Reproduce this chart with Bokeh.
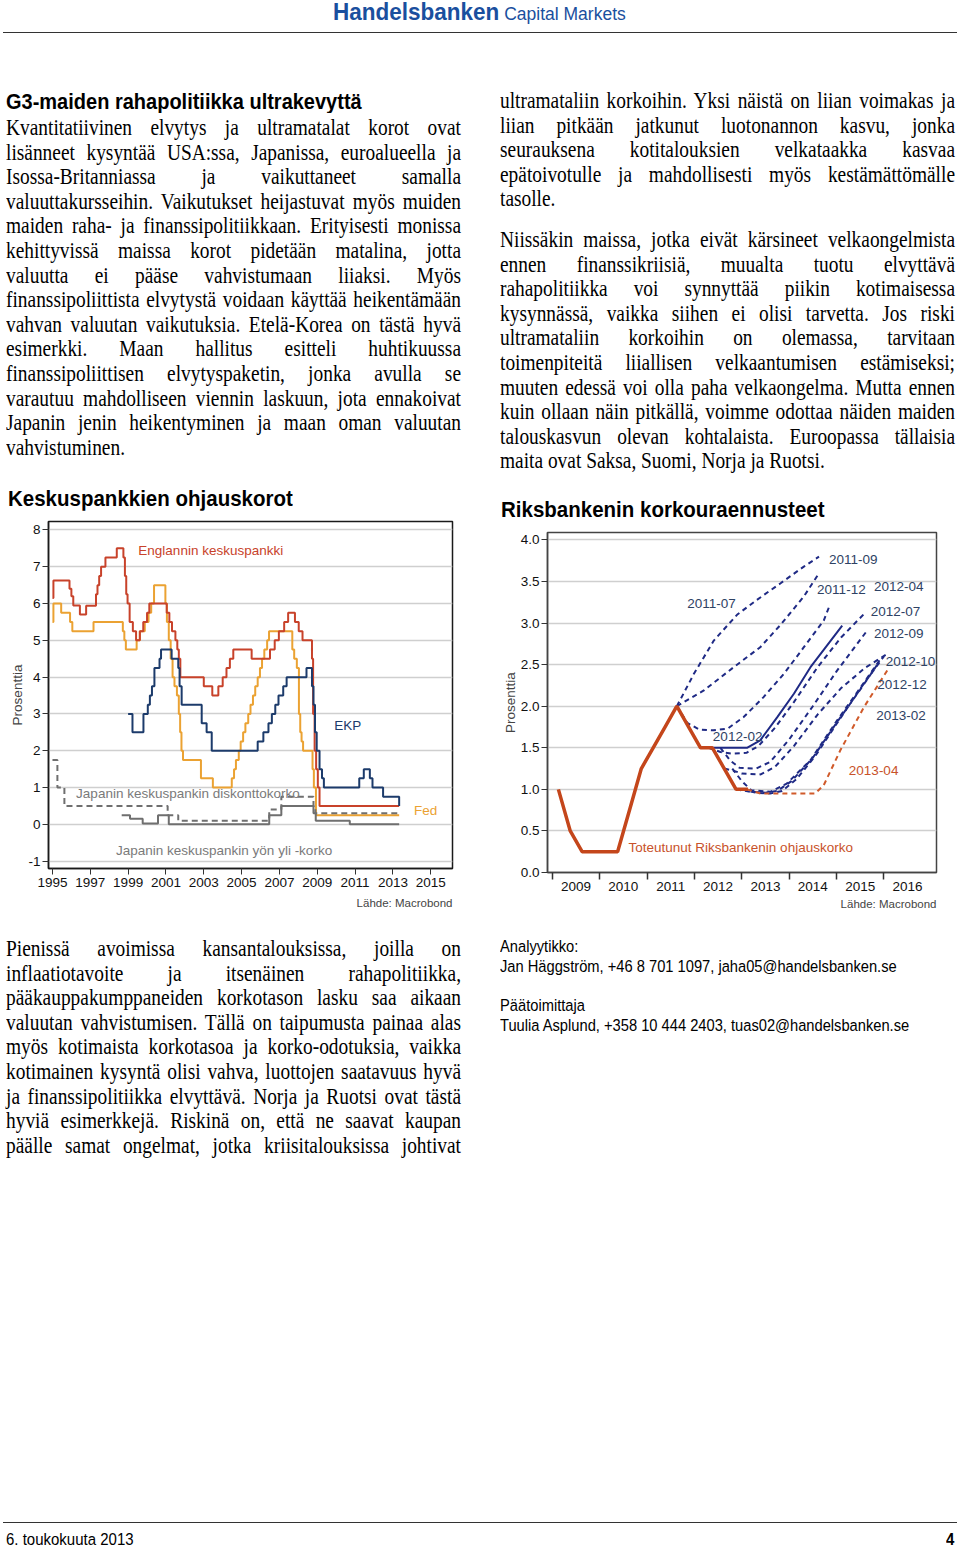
from bokeh.plotting import figure
from bokeh.models import Div, Title, Label, FixedTicker, NumeralTickFormatter, Range1d, CustomJSTickFormatter
from bokeh.layouts import column, row
from bokeh.embed import file_html
from bokeh.resources import INLINE

FONT = "Liberation Sans"

# ---------------- Chart 1 data: central bank policy rates (step series) ----------------
fed_x = [1995.0, 1995.05, 1995.46, 1995.93, 1996.05, 1997.17, 1998.72, 1998.8, 1998.88, 1999.45,
         1999.62, 1999.88, 2000.08, 2000.22, 2000.37, 2000.97, 2001.05, 2001.15, 2001.25, 2001.35,
         2001.45, 2001.58, 2001.68, 2001.75, 2001.82, 2001.9, 2002.85, 2003.48, 2004.48, 2004.6,
         2004.7, 2004.85, 2004.95, 2005.08, 2005.2, 2005.35, 2005.47, 2005.6, 2005.72, 2005.85,
         2005.97, 2006.08, 2006.2, 2006.35, 2006.45, 2007.68, 2007.78, 2007.92, 2008.03, 2008.1,
         2008.17, 2008.25, 2008.75, 2008.82, 2008.93, 2013.33]
fed_y = [5.5, 6.0, 5.75, 5.5, 5.25, 5.5, 5.25, 5.0, 4.75, 5.0,
         5.25, 5.5, 5.75, 6.0, 6.5, 6.0, 5.5, 5.0, 4.5, 4.0,
         3.75, 3.5, 3.0, 2.5, 2.0, 1.75, 1.25, 1.0, 1.25, 1.5,
         1.75, 2.0, 2.25, 2.5, 2.75, 3.0, 3.25, 3.5, 3.75, 4.0,
         4.25, 4.5, 4.75, 5.0, 5.25, 4.75, 4.5, 4.25, 3.0, 2.5,
         2.25, 2.0, 1.5, 1.0, 0.25, 0.25]

boe_x = [1995.0, 1995.05, 1995.9, 1996.0, 1996.1, 1996.45, 1996.78, 1997.3, 1997.38, 1997.47,
         1997.57, 1997.8, 1998.4, 1998.75, 1998.83, 1998.9, 1998.97, 1999.08, 1999.25, 1999.42,
         1999.62, 1999.8, 2000.0, 2000.12, 2001.04, 2001.18, 2001.32, 2001.5, 2001.6, 2001.68,
         2001.76, 2003.0, 2003.45, 2003.77, 2004.0, 2004.2, 2004.38, 2004.56, 2005.53, 2006.5,
         2006.75, 2006.97, 2007.25, 2007.46, 2007.82, 2008.02, 2008.22, 2008.72, 2008.78, 2008.86,
         2008.94, 2009.03, 2009.12, 2013.33]
boe_y = [6.15, 6.63, 6.4, 6.2, 5.95, 5.7, 5.94, 6.25, 6.5, 6.75,
         7.0, 7.25, 7.5, 7.25, 6.75, 6.25, 6.0, 5.5, 5.25, 5.0,
         5.25, 5.5, 5.75, 6.0, 5.75, 5.5, 5.25, 5.0, 4.75, 4.5,
         4.0, 3.75, 3.5, 3.75, 4.0, 4.25, 4.5, 4.75, 4.5, 4.75,
         5.0, 5.25, 5.5, 5.75, 5.5, 5.25, 5.0, 4.5, 3.0, 2.0,
         1.5, 1.0, 0.5, 0.5]

ecb_x = [1999.0, 1999.23, 1999.81, 2000.04, 2000.15, 2000.26, 2000.39, 2000.66, 2000.74, 2001.3,
         2001.65, 2001.72, 2001.83, 2002.89, 2003.15, 2003.42, 2005.85, 2006.15, 2006.42, 2006.6,
         2006.78, 2006.95, 2007.2, 2007.38, 2008.43, 2008.72, 2008.8, 2008.88, 2008.97, 2009.12,
         2009.25, 2009.35, 2011.22, 2011.46, 2011.78, 2011.92, 2012.48, 2013.33]
ecb_y = [3.0, 2.5, 3.0, 3.25, 3.5, 3.75, 4.25, 4.5, 4.75, 4.5,
         4.25, 3.75, 3.25, 2.75, 2.5, 2.0, 2.25, 2.5, 2.75, 3.0,
         3.25, 3.5, 3.75, 4.0, 4.25, 3.75, 3.25, 2.5, 2.0, 1.5,
         1.25, 1.0, 1.25, 1.5, 1.25, 1.0, 0.75, 0.5]

jp_call_x = [1998.66, 1999.1, 1999.77, 2000.58, 2001.15, 2006.46, 2007.1, 2008.8, 2008.92, 2010.72, 2013.33]
jp_call_y = [0.25, 0.15, 0.02, 0.25, 0.0, 0.25, 0.5, 0.3, 0.1, 0.0, 0.0]

jp_disc_x = [1995.0, 1995.26, 1995.63, 2001.09, 2001.65, 2006.46, 2007.1, 2008.8, 2008.9, 2013.33]
jp_disc_y = [1.75, 1.0, 0.5, 0.25, 0.1, 0.4, 0.75, 0.5, 0.3, 0.3]

years_c1 = [1995, 1997, 1999, 2001, 2003, 2005, 2007, 2009, 2011, 2013, 2015]
levels_c1 = [-1, 0, 1, 2, 3, 4, 5, 6, 7, 8]

c1_title = "Keskuspankkien ohjauskorot"
c1_labels = ["Englannin keskuspankki", "EKP", "Fed",
             "Japanin keskuspankin diskonttokorko", "Japanin keskuspankin yön yli -korko"]
c1_label_x = [1999.54, 2009.9, 2014.12, 1996.25, 1998.36]
c1_label_y = [7.45, 2.68, 0.38, 0.83, -0.7]
c1_label_col = ["#C8422A", "#1C3B6B", "#EBA232", "#7a7a7a", "#7a7a7a"]

# ---------------- Chart 2 data: Riksbank repo rate and forecast paths ----------------
repo_x = [2009.13, 2009.38, 2009.63, 2009.88, 2010.13, 2010.38, 2010.63, 2010.88, 2011.13,
          2011.38, 2011.63, 2011.88, 2012.13, 2012.38, 2012.63, 2012.88, 2013.13]
repo_y = [1.0, 0.5, 0.25, 0.25, 0.25, 0.25, 0.75, 1.25, 1.5,
          1.75, 2.0, 1.75, 1.5, 1.5, 1.25, 1.0, 1.0]

f_2011_07_x = [2011.63, 2011.99, 2012.41, 2012.9, 2013.32, 2013.82, 2014.31, 2014.63]
f_2011_07_y = [2.0, 2.39, 2.79, 3.10, 3.28, 3.48, 3.68, 3.80]
f_2011_09_x = [2011.63, 2012.2, 2012.83, 2013.39, 2013.82, 2014.31, 2014.63]
f_2011_09_y = [2.0, 2.19, 2.47, 2.71, 2.98, 3.32, 3.60]
f_2011_12_x = [2011.63, 2011.85, 2012.1, 2012.4, 2012.7, 2013.04, 2013.46, 2013.89, 2014.31, 2014.73, 2014.86]
f_2011_12_y = [2.0, 1.8, 1.72, 1.71, 1.73, 1.87, 2.11, 2.39, 2.71, 3.03, 3.22]
f_2012_02_x = [2012.13, 2013.11, 2013.39, 2013.75, 2014.1, 2014.45, 2015.12]
f_2012_02_y = [1.5, 1.5, 1.59, 1.87, 2.15, 2.47, 2.97]
f_2012_04_x = [2012.3, 2012.55, 2012.8, 2013.1, 2013.35, 2013.7, 2014.1, 2014.6, 2015.1, 2015.58]
f_2012_04_y = [1.5, 1.45, 1.43, 1.44, 1.52, 1.74, 2.05, 2.47, 2.83, 3.11]
f_2012_07_x = [2012.55, 2012.75, 2012.95, 2013.3, 2013.6, 2014.0, 2014.5, 2015.0, 2015.62]
f_2012_07_y = [1.5, 1.35, 1.26, 1.25, 1.33, 1.6, 2.0, 2.42, 2.89]
f_2012_09_x = [2012.63, 2012.85, 2013.0, 2013.4, 2013.7, 2014.1, 2014.6, 2015.1, 2015.6, 2016.07]
f_2012_09_y = [1.25, 1.22, 1.19, 1.18, 1.27, 1.52, 1.9, 2.22, 2.46, 2.63]
f_2012_10_x = [2012.8, 2013.0, 2013.2, 2013.6, 2013.95, 2014.45, 2015.0, 2015.5, 2015.93]
f_2012_10_y = [1.25, 1.1, 0.99, 0.97, 1.07, 1.35, 1.82, 2.22, 2.57]
f_2012_12_x = [2012.88, 2013.2, 2013.5, 2013.75, 2014.05, 2014.5, 2015.0, 2015.5, 2015.86]
f_2012_12_y = [1.0, 0.97, 0.96, 0.98, 1.1, 1.38, 1.8, 2.2, 2.5]
f_2013_02_x = [2013.0, 2013.3, 2013.6, 2013.85, 2014.15, 2014.55, 2015.05, 2015.55, 2016.0]
f_2013_02_y = [1.0, 0.96, 0.95, 0.98, 1.12, 1.4, 1.83, 2.25, 2.6]
f_2013_04_x = [2013.11, 2013.4, 2014.55, 2014.73, 2015.08, 2015.58, 2016.07]
f_2013_04_y = [1.0, 0.95, 0.95, 1.05, 1.47, 1.99, 2.43]

years_c2 = [2009, 2010, 2011, 2012, 2013, 2014, 2015, 2016]
levels_c2 = [0.0, 0.5, 1.0, 1.5, 2.0, 2.5, 3.0, 3.5, 4.0]

c2_title = "Riksbankenin korkouraennusteet"
c2_labels = ["2011-07", "2011-09", "2011-12", "2012-04", "2012-07", "2012-09", "2012-10",
             "2012-12", "2013-02", "2012-02", "2013-04", "Toteutunut Riksbankenin ohjauskorko"]
c2_label_x = [2011.85, 2014.84, 2014.59, 2015.79, 2015.72, 2015.79, 2016.04,
              2015.86, 2015.84, 2012.39, 2015.26, 2010.61]
c2_label_y = [3.24, 3.77, 3.41, 3.44, 3.14, 2.87, 2.54, 2.26, 1.89, 1.63, 1.23, 0.30]
c2_label_col = ["#2E4264"] * 10 + ["#C8522A", "#C8522A"]

source_text = "Lähde: Macrobond"

# ---------------- Text content ----------------
header_bold = "Handelsbanken"
header_light = "Capital Markets"
heading = "G3-maiden rahapolitiikka ultrakevyttä"
left_top_lines = [
    "Kvantitatiivinen elvytys ja ultramatalat korot ovat",
    "lisänneet kysyntää USA:ssa, Japanissa, euroalueella ja",
    "Isossa-Britanniassa ja vaikuttaneet samalla",
    "valuuttakursseihin. Vaikutukset heijastuvat myös muiden",
    "maiden raha- ja finanssipolitiikkaan. Erityisesti monissa",
    "kehittyvissä maissa korot pidetään matalina, jotta",
    "valuutta ei pääse vahvistumaan liiaksi. Myös",
    "finanssipoliittista elvytystä voidaan käyttää heikentämään",
    "vahvan valuutan vaikutuksia. Etelä-Korea on tästä hyvä",
    "esimerkki. Maan hallitus esitteli huhtikuussa",
    "finanssipoliittisen elvytyspaketin, jonka avulla se",
    "varautuu mahdolliseen viennin laskuun, jota ennakoivat",
    "Japanin jenin heikentyminen ja maan oman valuutan",
    "vahvistuminen.",
]
right_top_par1 = [
    "ultramataliin korkoihin. Yksi näistä on liian voimakas ja",
    "liian pitkään jatkunut luotonannon kasvu, jonka",
    "seurauksena kotitalouksien velkataakka kasvaa",
    "epätoivotulle ja mahdollisesti myös kestämättömälle",
    "tasolle.",
]
right_top_par2 = [
    "Niissäkin maissa, jotka eivät kärsineet velkaongelmista",
    "ennen finanssikriisiä, muualta tuotu elvyttävä",
    "rahapolitiikka voi synnyttää piikin kotimaisessa",
    "kysynnässä, vaikka siihen ei olisi tarvetta. Jos riski",
    "ultramataliin korkoihin on olemassa, tarvitaan",
    "toimenpiteitä liiallisen velkaantumisen estämiseksi;",
    "muuten edessä voi olla paha velkaongelma. Mutta ennen",
    "kuin ollaan näin pitkällä, voimme odottaa näiden maiden",
    "talouskasvun olevan kohtalaista. Euroopassa tällaisia",
    "maita ovat Saksa, Suomi, Norja ja Ruotsi.",
]
left_bottom_lines = [
    "Pienissä avoimissa kansantalouksissa, joilla on",
    "inflaatiotavoite ja itsenäinen rahapolitiikka,",
    "pääkauppakumppaneiden korkotason lasku saa aikaan",
    "valuutan vahvistumisen. Tällä on taipumusta painaa alas",
    "myös kotimaista korkotasoa ja korko-odotuksia, vaikka",
    "kotimainen kysyntä olisi vahva, luottojen saatavuus hyvä",
    "ja finanssipolitiikka elvyttävä. Norja ja Ruotsi ovat tästä",
    "hyviä esimerkkejä. Riskinä on, että ne saavat kaupan",
    "päälle samat ongelmat, jotka kriisitalouksissa johtivat",
]
analyst_lines = [
    "Analyytikko:",
    "Jan Häggström, +46 8 701 1097, jaha05@handelsbanken.se",
    "Päätoimittaja",
    "Tuulia Asplund, +358 10 444 2403, tuas02@handelsbanken.se",
]
footer_left = "6. toukokuuta 2013"
footer_right = "4"

# ---------------- HTML helpers ----------------
LINE_H = 24.6
BODY_FS = 19.4
TOP_H = 480
T1_H = 30     # chart-1 title strip
T2_H = 41     # chart-2 title strip
ROW_END = 920


def body_line(text, left, cy, justify):
    return (f'<div style="position:absolute;left:{left}px;top:{cy - 12:.1f}px;width:455px;height:24px;'
            f"line-height:24px;font-family:'Liberation Serif',serif;font-size:{BODY_FS}px;color:#000;"
            f'text-align:justify;text-align-last:{"justify" if justify else "left"};'
            f'transform:scaleY(1.14);transform-origin:50% 55%;">{text}</div>')


def sans_line(text, left, cy, size, bold=False, color="#000", extra=""):
    fw = "bold" if bold else "normal"
    return (f'<div style="position:absolute;left:{left}px;top:{cy - size * 0.6:.1f}px;white-space:nowrap;'
            f"line-height:{size * 1.2:.1f}px;font-family:'Liberation Sans',sans-serif;font-size:{size}px;"
            f'font-weight:{fw};color:{color};{extra}">{text}</div>')


def box(parts, w, h):
    return f'<div style="position:relative;width:{w}px;height:{h}px;">' + "".join(parts) + "</div>"


top_parts = []
top_parts.append(
    f'<div style="position:absolute;left:333px;top:0px;white-space:nowrap;line-height:26px;'
    f"font-family:'Liberation Sans',sans-serif;color:#1A4F9E;transform:scaleY(1.08);\">"
    f'<span style="font-size:22.5px;font-weight:bold;">{header_bold}</span>'
    f'<span style="font-size:17.5px;"> {header_light}</span></div>')
top_parts.append('<div style="position:absolute;left:3px;top:32px;width:954px;height:0;border-top:1.3px solid #333;"></div>')
top_parts.append(sans_line(heading, 6, 101, 20, bold=True, extra="transform:scaleY(1.08);"))
for i, t in enumerate(left_top_lines):
    top_parts.append(body_line(t, 6, 128 + i * LINE_H, i < len(left_top_lines) - 1))
for i, t in enumerate(right_top_par1):
    top_parts.append(body_line(t, 500, 101 + i * LINE_H, i < len(right_top_par1) - 1))
for i, t in enumerate(right_top_par2):
    top_parts.append(body_line(t, 500, 240 + i * LINE_H, i < len(right_top_par2) - 1))

t1_html = box([sans_line(c1_title, 8, 498 - TOP_H, 20.5, bold=True, extra="transform:scaleY(1.12);")], 480, T1_H)
t2_html = box([sans_line(c2_title, 21, 509 - TOP_H, 20.5, bold=True, extra="transform:scaleY(1.12);")], 480, T2_H)

Y0 = ROW_END
bot_parts = []
for i, t in enumerate(left_bottom_lines):
    bot_parts.append(body_line(t, 6, 949 - Y0 + i * LINE_H, True))
for t, cy in zip(analyst_lines, [948, 968, 1007, 1027]):
    bot_parts.append(sans_line(t, 500, cy - Y0, 14.7, extra="transform:scaleY(1.08);"))
bot_parts.append(f'<div style="position:absolute;left:3px;top:{1522 - Y0}px;width:954px;height:0;border-top:1.3px solid #333;"></div>')
bot_parts.append(sans_line(footer_left, 6, 1540 - Y0, 15, extra="transform:scaleY(1.1);"))
bot_parts.append(sans_line(footer_right, 946, 1540 - Y0, 15, bold=True, extra="transform:scaleY(1.1);"))

top_div = Div(text=box(top_parts, 960, TOP_H), width=960, height=TOP_H, margin=(0, 0, 0, 0))
t1_div = Div(text=t1_html, width=480, height=T1_H, margin=(0, 0, 0, 0))
t2_div = Div(text=t2_html, width=480, height=T2_H, margin=(0, 0, 0, 0))
bot_div = Div(text=box(bot_parts, 960, 618), width=960, height=618, margin=(0, 0, 0, 0))

# ---------------- Chart 1 ----------------
p1 = figure(width=480, height=ROW_END - TOP_H - T1_H, x_range=Range1d(1994.79, 2016.15),
            y_range=Range1d(-1.2, 8.23), title=None, output_backend="svg", toolbar_location=None,
            min_border_left=48, min_border_right=28, min_border_top=11, min_border_bottom=52,
            margin=(0, 0, 0, 0))

p1.step(fed_x, fed_y, mode="after", line_color="#EBA232", line_width=2)
p1.step(boe_x, boe_y, mode="after", line_color="#C8422A", line_width=2)
p1.step(ecb_x, ecb_y, mode="after", line_color="#1C3B6B", line_width=2)
p1.step(jp_call_x, jp_call_y, mode="after", line_color="#6F6F6F", line_width=2)
p1.step(jp_disc_x, jp_disc_y, mode="after", line_color="#6F6F6F", line_width=2, line_dash="6 4")

for t, x, y, c in zip(c1_labels, c1_label_x, c1_label_y, c1_label_col):
    p1.add_layout(Label(x=x, y=y, text=t, text_color=c, text_font=FONT, text_font_size="13.5px",
                        text_baseline="middle", text_align="left"))

p1.xaxis.ticker = FixedTicker(ticks=years_c1)
p1.yaxis.ticker = FixedTicker(ticks=levels_c1)
p1.yaxis.formatter = CustomJSTickFormatter(code="return String(tick);")
p1.yaxis.axis_label = "Prosenttia"

# ---------------- Chart 2 ----------------
p2 = figure(width=480, height=ROW_END - TOP_H - T2_H, x_range=Range1d(2008.9, 2017.11),
            y_range=Range1d(0, 4.09), title=None, output_backend="svg", toolbar_location=None,
            min_border_left=67, min_border_right=24, min_border_top=11, min_border_bottom=48,
            margin=(0, 0, 0, 0))

NAVY = "#1F2A85"
forecasts = [(f_2011_07_x, f_2011_07_y, "dashed"), (f_2011_09_x, f_2011_09_y, "dashed"),
             (f_2011_12_x, f_2011_12_y, "dashed"), (f_2012_02_x, f_2012_02_y, "solid"),
             (f_2012_04_x, f_2012_04_y, "dashed"), (f_2012_07_x, f_2012_07_y, "dashed"),
             (f_2012_09_x, f_2012_09_y, "dashed"), (f_2012_10_x, f_2012_10_y, "dashed"),
             (f_2012_12_x, f_2012_12_y, "dashed"), (f_2013_02_x, f_2013_02_y, "dashed")]
for fx, fy, style in forecasts:
    if style == "solid":
        p2.line(fx, fy, line_color=NAVY, line_width=2)
    else:
        p2.line(fx, fy, line_color=NAVY, line_width=2, line_dash="5 4")
p2.line(f_2013_04_x, f_2013_04_y, line_color="#D05A2A", line_width=2, line_dash="5 4")
p2.line(repo_x, repo_y, line_color="#C4461B", line_width=3.5)

for t, x, y, c in zip(c2_labels, c2_label_x, c2_label_y, c2_label_col):
    p2.add_layout(Label(x=x, y=y, text=t, text_color=c, text_font=FONT, text_font_size="13.5px",
                        text_baseline="middle", text_align="left"))

p2.xaxis.ticker = FixedTicker(ticks=[y + 0.5 for y in years_c2], minor_ticks=years_c2)
p2.xaxis.formatter = CustomJSTickFormatter(code="return String(Math.floor(tick));")
p2.yaxis.ticker = FixedTicker(ticks=levels_c2)
p2.yaxis.formatter = NumeralTickFormatter(format="0.0")
p2.yaxis.axis_label = "Prosenttia"

# ---------------- Common styling ----------------
for p, oc, so in ((p1, "#1a1a1a", 10), (p2, "#444444", 5)):
    p.background_fill_color = "white"
    p.border_fill_color = "white"
    p.outline_line_color = oc
    p.outline_line_width = 1.5
    p.xgrid.visible = False
    p.ygrid.grid_line_color = "#cfcfcf"
    p.ygrid.grid_line_width = 1.4
    p.axis.axis_line_color = oc
    p.axis.axis_line_width = 1.5
    p.axis.major_label_text_font = FONT
    p.axis.major_label_text_font_size = "13.5px"
    p.axis.major_label_text_color = "#111111"
    p.axis.major_tick_line_color = "#333333"
    p.axis.major_tick_in = 0
    p.axis.major_tick_out = 6
    p.axis.minor_tick_in = 0
    p.axis.minor_tick_out = 0
    p.yaxis.major_label_standoff = 2
    p.xaxis.major_label_standoff = 3
    p.yaxis.axis_label_text_font = FONT
    p.yaxis.axis_label_text_font_size = "13.5px"
    p.yaxis.axis_label_text_font_style = "normal"
    p.yaxis.axis_label_standoff = 0
    p.add_layout(Title(text=source_text, align="right", text_font=FONT, text_font_size="11.5px",
                       text_font_style="normal", standoff=so), "below")

p2.xaxis.major_label_standoff = 2
p2.xaxis.major_tick_line_color = None
p2.xaxis.minor_tick_line_color = "#333333"
p2.xaxis.minor_tick_out = 7
p2.xaxis.minor_tick_line_width = 1.5

charts = row(column(t1_div, p1, spacing=0, margin=(0, 0, 0, 0)),
             column(t2_div, p2, spacing=0, margin=(0, 0, 0, 0)),
             spacing=0, margin=(0, 0, 0, 0))
layout = column(top_div, charts, bot_div, spacing=0, margin=(0, 0, 0, 0))

open("out.html", "w", encoding="utf-8").write(file_html(layout, INLINE))
